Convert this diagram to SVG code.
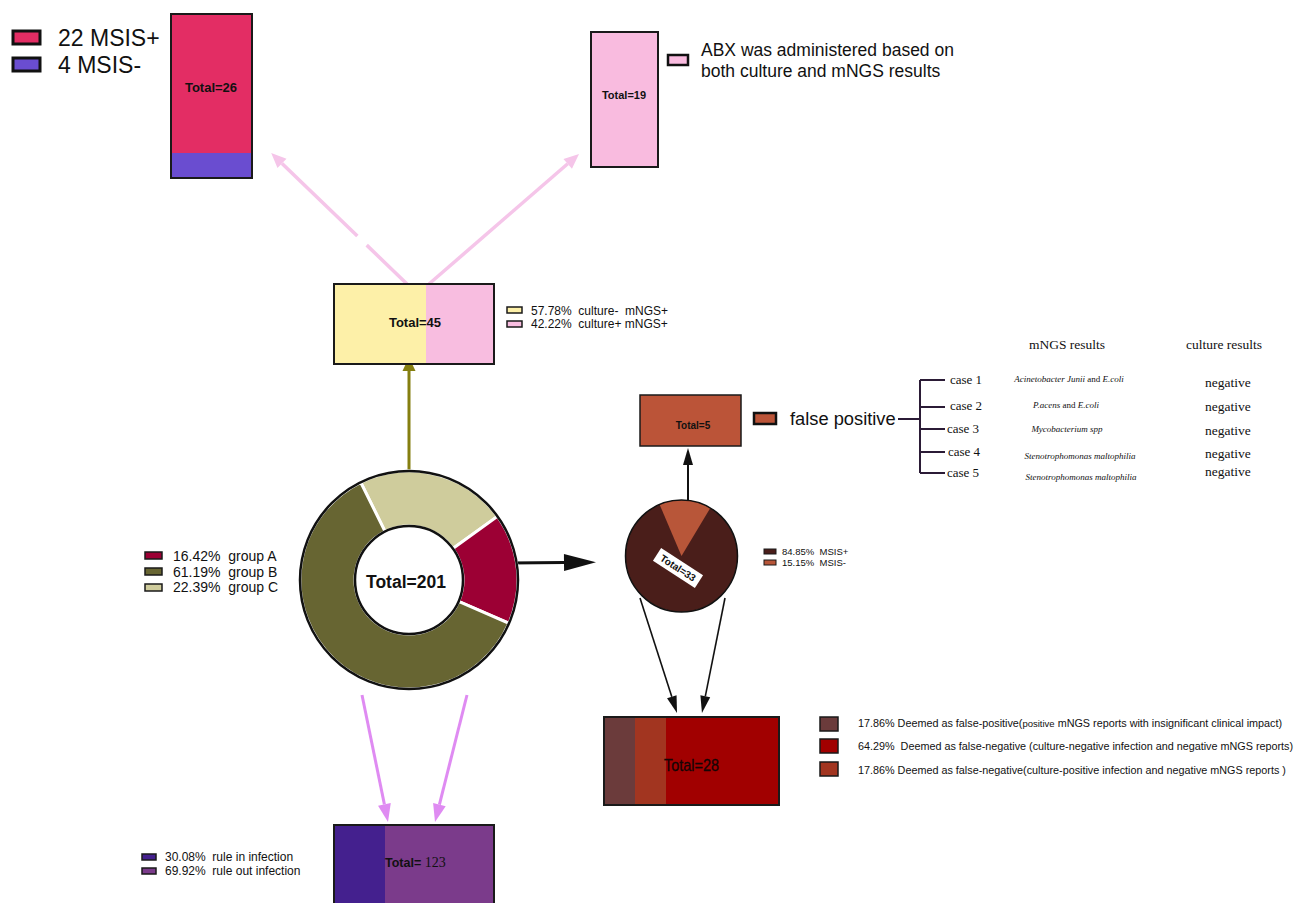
<svg xmlns="http://www.w3.org/2000/svg" width="1295" height="903" viewBox="0 0 1295 903">
<style>
.sans{font-family:"Liberation Sans",Arial,sans-serif}
.serif{font-family:"Liberation Serif","Times New Roman",serif}
.ital{font-family:"Liberation Serif","Times New Roman",serif;font-style:italic;font-size:9px;text-anchor:middle;fill:#111}
.box{stroke:#1a1a1a;stroke-width:2}
.lg{stroke:#1a1a1a;stroke-width:1.5}
.lgk{stroke:#111;stroke-width:3}
.tot{font-family:"Liberation Sans",Arial,sans-serif;font-weight:bold;text-anchor:middle;fill:#111}
.case{font-family:"Liberation Serif","Times New Roman",serif;font-size:13px;fill:#111}
.neg{font-family:"Liberation Serif","Times New Roman",serif;font-size:13.5px;fill:#111}
.brk{stroke:#2b1b36;stroke-width:2;fill:none}
.l28{font-family:"Liberation Sans",Arial,sans-serif;font-size:10.8px;fill:#111}
</style>
<defs>
<marker id="mPink" markerUnits="userSpaceOnUse" markerWidth="16" markerHeight="14" refX="0" refY="6.5" orient="auto" overflow="visible"><path d="M0,0 L15,6.5 L0,13 Z" fill="#f5c5e9"/></marker>
<marker id="mOlive" markerUnits="userSpaceOnUse" markerWidth="14" markerHeight="14" refX="0" refY="6.5" orient="auto" overflow="visible"><path d="M0,0 L14,6.5 L0,13 Z" fill="#857f10"/></marker>
<marker id="mBig" markerUnits="userSpaceOnUse" markerWidth="33" markerHeight="18" refX="0" refY="8.5" orient="auto" overflow="visible"><path d="M0,0 L32,8.5 L0,17 Z" fill="#111"/></marker>
<marker id="mBlack" markerUnits="userSpaceOnUse" markerWidth="18" markerHeight="11" refX="0" refY="5" orient="auto" overflow="visible"><path d="M0,0 L17,5 L0,10 Z" fill="#111"/></marker>
<marker id="mViolet" markerUnits="userSpaceOnUse" markerWidth="19" markerHeight="14" refX="0" refY="6.5" orient="auto" overflow="visible"><path d="M0,0 L18,6.5 L0,13 Z" fill="#df8bf2"/></marker>
</defs>
<rect width="1295" height="903" fill="#fff"/>

<g id="connectors" fill="none">
<line x1="407" y1="284" x2="282" y2="163.4" stroke="#f5c5e9" stroke-width="3.5" stroke-dasharray="56 13 200" marker-end="url(#mPink)"/>
<line x1="429" y1="284" x2="567.7" y2="163.8" stroke="#f5c5e9" stroke-width="3.5" marker-end="url(#mPink)"/>
<line x1="409" y1="470" x2="409" y2="371" stroke="#857f10" stroke-width="3" marker-end="url(#mOlive)"/>
<line x1="510" y1="563" x2="564" y2="562.5" stroke="#111" stroke-width="3" marker-end="url(#mBig)"/>
<line x1="688" y1="500" x2="688" y2="465" stroke="#111" stroke-width="2" marker-end="url(#mBlack)"/>
<line x1="640" y1="598" x2="671.8" y2="696.8" stroke="#111" stroke-width="1.6" marker-end="url(#mBlack)"/>
<line x1="725" y1="598" x2="705.3" y2="696.3" stroke="#111" stroke-width="1.6" marker-end="url(#mBlack)"/>
<line x1="362" y1="695" x2="384.4" y2="804.4" stroke="#df8bf2" stroke-width="3" marker-end="url(#mViolet)"/>
<line x1="467" y1="695" x2="439.4" y2="804.6" stroke="#df8bf2" stroke-width="3" marker-end="url(#mViolet)"/>
</g>

<g id="node-total26">
<rect x="171" y="14" width="81" height="139" fill="#e32d64"/>
<rect x="171" y="153" width="81" height="25" fill="#6a4dd0"/>
<rect x="171" y="14" width="81" height="164" fill="none" class="box"/>
<text x="211" y="92" class="tot" font-size="13">Total=26</text>
</g>
<g id="legend-total26">
<rect x="13" y="31" width="27" height="13" fill="#e32d64" class="lgk"/>
<rect x="13" y="58" width="27" height="13" fill="#6a4dd0" class="lgk"/>
<text x="58" y="46" class="sans" font-size="23" fill="#111">22 MSIS+</text>
<text x="58" y="73" class="sans" font-size="23" fill="#111">4 MSIS-</text>
</g>

<g id="node-total19">
<rect x="591" y="32" width="67" height="135" fill="#f9bbdf" class="box"/>
<text x="624" y="99" class="tot" font-size="11">Total=19</text>
</g>
<g id="legend-total19">
<rect x="668" y="55" width="20" height="10" fill="#f9bbdf" class="lgk" style="stroke-width:2.5"/>
<text x="701" y="56" class="sans" font-size="17.5" fill="#111">ABX was administered based on</text>
<text x="701" y="77" class="sans" font-size="17.5" fill="#111">both culture and mNGS results</text>
</g>

<g id="node-total45">
<rect x="334" y="284" width="92" height="80" fill="#fdf0a8"/>
<rect x="426" y="284" width="68" height="80" fill="#f8bde0"/>
<rect x="334" y="284" width="160" height="80" fill="none" class="box"/>
<text x="415" y="327" class="tot" font-size="13">Total=45</text>
</g>
<g id="legend-total45">
<rect x="507" y="307" width="15" height="6" fill="#fdf0a8" class="lg"/>
<rect x="507" y="321" width="15" height="6" fill="#f8bde0" class="lg"/>
<text x="531" y="315" class="sans" font-size="12" fill="#111" xml:space="preserve">57.78%  culture-  mNGS+</text>
<text x="531" y="328" class="sans" font-size="12" fill="#111" xml:space="preserve">42.22%  culture+ mNGS+</text>
</g>

<g id="node-total201">
<path d="M360.7 482.3 A109 109 0 0 1 497.5 516.4 L452.9 548.5 A54 54 0 0 0 385.1 531.6 Z" fill="#cfcc9c" stroke="#fff" stroke-width="3"/>
<path d="M497.5 516.4 A109 109 0 0 1 509 623.3 L458.6 601.4 A54 54 0 0 0 452.9 548.5 Z" fill="#9c0034" stroke="#fff" stroke-width="3"/>
<path d="M509 623.3 A109 109 0 1 1 360.7 482.3 L385.1 531.6 A54 54 0 1 0 458.6 601.4 Z" fill="#676532" stroke="#fff" stroke-width="3"/>
<circle cx="409" cy="580" r="109" fill="none" stroke="#111" stroke-width="2.5"/>
<circle cx="409" cy="580" r="54" fill="#fff" stroke="#111" stroke-width="2.5"/>
<text x="406" y="588" class="tot" font-size="17.5">Total=201</text>
</g>
<g id="legend-total201">
<rect x="145" y="552" width="17" height="7" fill="#9c0034" class="lg"/>
<rect x="145" y="568" width="17" height="7" fill="#676532" class="lg"/>
<rect x="145" y="584" width="17" height="7" fill="#cfcc9c" class="lg"/>
<text x="173" y="561" class="sans" font-size="14" fill="#111" xml:space="preserve">16.42%  group A</text>
<text x="173" y="577" class="sans" font-size="14" fill="#111" xml:space="preserve">61.19%  group B</text>
<text x="173" y="592" class="sans" font-size="14" fill="#111" xml:space="preserve">22.39%  group C</text>
</g>

<g id="node-total33">
<circle cx="681.5" cy="556" r="56" fill="#4a1e1a"/>
<path d="M681.5 556 L659.6 504.5 A56 56 0 0 1 710.3 508 Z" fill="#b85639"/>
<circle cx="681.5" cy="556" r="56" fill="none" stroke="#111" stroke-width="1.5"/>
<g transform="translate(678 568) rotate(33)">
<rect x="-25" y="-7.5" width="50" height="15" fill="#fff"/>
<text x="0" y="3.5" class="tot" font-size="10">Total=33</text>
</g>
</g>
<g id="legend-total33">
<rect x="764" y="549" width="12" height="5" fill="#4a1e1a" class="lg" style="stroke-width:1"/>
<rect x="764" y="560" width="12" height="5" fill="#b85639" class="lg" style="stroke-width:1"/>
<text x="782" y="555" class="sans" font-size="9.5" fill="#111" xml:space="preserve">84.85%  MSIS+</text>
<text x="782" y="566" class="sans" font-size="9.5" fill="#111" xml:space="preserve">15.15%  MSIS-</text>
</g>

<g id="node-total5">
<rect x="640" y="395" width="101" height="51" fill="#bb5438" class="box" style="stroke-width:1.5"/>
<text x="693" y="429" class="tot" font-size="10">Total=5</text>
</g>
<g id="legend-total5">
<rect x="754" y="413" width="22" height="11" fill="#bb5438" class="lgk" style="stroke-width:2.5"/>
<text x="790" y="425" class="sans" font-size="18.3" fill="#111">false positive</text>
<path d="M898 419 H920 M920 380 V473 M920 380 H945 M920 407 H945 M920 429 H945 M920 452 H945 M920 473 H945" class="brk"/>
</g>

<g id="table-false-positive">
<text x="1067" y="349" class="serif" font-size="13.5" text-anchor="middle" fill="#111">mNGS results</text>
<text x="1224" y="349" class="serif" font-size="13.5" text-anchor="middle" fill="#111">culture results</text>
<text x="950" y="384" class="case">case 1</text>
<text x="950" y="410" class="case">case 2</text>
<text x="947" y="433" class="case">case 3</text>
<text x="948" y="456" class="case">case 4</text>
<text x="947" y="477" class="case">case 5</text>
<text x="1069" y="382" class="ital">Acinetobacter Junii <tspan font-style="normal">and</tspan> E.coli</text>
<text x="1066" y="408" class="ital">P.acens <tspan font-style="normal">and</tspan> E.coli</text>
<text x="1067" y="432" class="ital">Mycobacterium spp</text>
<text x="1080" y="459" class="ital">Stenotrophomonas maltophilia</text>
<text x="1081" y="480" class="ital">Stenotrophomonas maltophilia</text>
<text x="1205" y="387" class="neg">negative</text>
<text x="1205" y="411" class="neg">negative</text>
<text x="1205" y="435" class="neg">negative</text>
<text x="1205" y="458" class="neg">negative</text>
<text x="1205" y="476" class="neg">negative</text>
</g>

<g id="node-total28">
<rect x="604" y="717" width="31" height="88" fill="#6b3b3b"/>
<rect x="635" y="717" width="31" height="88" fill="#a23520"/>
<rect x="666" y="717" width="113" height="88" fill="#a10000"/>
<rect x="604" y="717" width="175" height="88" fill="none" class="box"/>
<text x="664" y="771" class="sans" font-size="17" fill="#140505" stroke="#140505" stroke-width="0.3" textLength="55" lengthAdjust="spacingAndGlyphs">Total=28</text>
</g>
<g id="legend-total28">
<rect x="820" y="717" width="18" height="14" fill="#6b3b3b" class="lg"/>
<rect x="820" y="739" width="18" height="14" fill="#a10000" class="lg"/>
<rect x="820" y="762" width="18" height="14" fill="#a23520" class="lg"/>
<text x="858" y="727" class="l28">17.86% Deemed as false-positive(<tspan font-size="9.5">positive</tspan> mNGS reports with insignificant clinical impact)</text>
<text x="858" y="750" class="l28" font-size="10.7" xml:space="preserve">64.29%  Deemed as false-negative (culture-negative infection and negative mNGS reports)</text>
<text x="858" y="774" class="l28">17.86% Deemed as false-negative(culture-positive infection and negative mNGS reports )</text>
</g>

<g id="node-total123">
<rect x="334" y="825" width="51" height="82" fill="#44208e"/>
<rect x="385" y="825" width="109" height="82" fill="#7b3b8b"/>
<rect x="334" y="825" width="160" height="82" fill="none" class="box"/>
<text x="385" y="867" fill="#111"><tspan class="sans" font-weight="bold" font-size="12.5">Total= </tspan><tspan class="serif" font-size="14">123</tspan></text>
</g>
<g id="legend-total123">
<rect x="142" y="854" width="14" height="6" fill="#44208e" class="lg"/>
<rect x="142" y="868" width="14" height="6" fill="#7b3b8b" class="lg"/>
<text x="165" y="861" class="sans" font-size="12" fill="#111" xml:space="preserve">30.08%  rule in infection</text>
<text x="165" y="875" class="sans" font-size="12" fill="#111" xml:space="preserve">69.92%  rule out infection</text>
</g>
</svg>
